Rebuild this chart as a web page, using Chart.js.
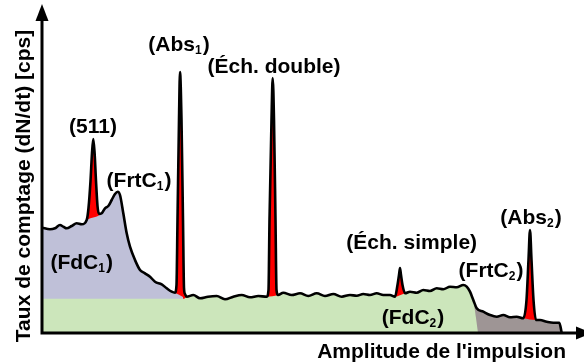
<!DOCTYPE html>
<html>
<head>
<meta charset="utf-8">
<script src="https://cdn.jsdelivr.net/npm/chart.js@4.4.1/dist/chart.umd.min.js"></script>
<style>
  html, body { margin: 0; padding: 0; background: #fff; }
  #wrap { width: 584px; height: 363px; }
</style>
</head>
<body>
<div id="wrap"><canvas id="spectrum" width="584" height="363"></canvas></div>
<script>
// continuum of the spectrum, [amplitude, counts], peak bases included
const continuum = [
  [0,105.3],[8,103.7],[13,104.7],[18,108],[21.3,106.3],[24.7,104.7],[29.7,107],[34.7,109.7],[39.7,108.7],[44.7,113],
  [59.7,119.7],[63,124.7],[66.3,127],[69.7,133],[73,139],[75.7,141.3],[78,138],[81.3,119.7],[84.7,99.7],[88,86.3],
  [93,73],[98,63],[103,59.7],[108,56.3],[113,51.3],[119.7,48.7],[124.7,44.7],[129.7,41.3],[133,40.3],
  [144.7,36.3],[151.3,38],[158,34.7],[166,36.3],[174.7,37],[183,33.7],[191.3,36.3],[199.7,38],[208,35.7],[216.3,37],[224.7,36.3],
  [236,38],[241.3,40.3],[249.7,38],[258,39.7],[266.3,37],[274.7,39.7],[283,37],[291.3,39],[299.7,36.3],[308,38],
  [314.7,37.3],[321.3,39],[328,38],[334.7,39.7],[341.3,38],[348,38],[353,36.3],
  [363,39.7],[368,41.3],[374.7,40.3],[381.3,43],[388,42],[394.7,44.7],[401.3,43.7],[408,46.3],[414.7,45.7],[421.3,48],
  [424.7,46.3],[428,41.3],[431.3,33],[434.7,24.7],[441.3,21.3],[448,18],[454.7,16.3],[461.3,18],[468,15.7],[474.7,16.3],[481.3,14.7],
  [494,13],[498,13],[504.7,11.3],[511.3,10.3],[517.3,10.3],[519.7,0]
];

// peaks, points between their bases
const peak511 = [[46.5,125],[48.5,152],[50,180],[51.3,194],[52.6,180],[54,152],[55.5,127],[57,119]];
const peakAbs1 = [[134.5,48],[135.5,113],[137,213],[138,261],[139.5,213],[141,113],[142,45],[143,39]];
const peakDouble = [[226.5,43],[227.5,113],[229.5,213],[230.7,255],[232,213],[233.5,113],[234.5,43]];
const peakSimple = [[355.5,48],[357,58],[358,65],[359,58],[360.5,48]];
const peakAbs2 = [[484.5,33],[486.5,73],[488,103],[489.5,73],[491.5,33]];

// limits of the three background regions
const fdc1End = [141, 36];
const fdc2Floor = 34.3;
const fdc2Drop = [[434, 15], [436, 0]];
const tailStart = 431.3;

// annotations
const labelText = ['(511)', '(Abs', '(Éch. double)', '(FrtC', '(FdC', '(Éch. simple)', '(FrtC', '(Abs', '(FdC'];
const labelSub  = ['', '1', '', '1', '1', '', '2', '2', '2'];
const labelAmp  = [51, 137, 232, 97, 39.7, 369.7, 449, 489, 371];
const labelCnt  = [200.3, 282, 260.3, 145.7, 63.7, 84, 55.7, 108.7, 9];

const xTitle = "Amplitude de l'impulsion";
const yTitle = 'Taux de comptage (dN/dt) [cps]';

const pts = arr => arr.map(p => ({ x: p[0], y: p[1] }));

const peaks = [peak511, peakAbs1, peakDouble, peakSimple, peakAbs2];
const spectrum = continuum.concat(...peaks).sort((a, b) => a[0] - b[0]);

// red area of each peak, closed by its neighbouring continuum points
const peakArea = peak => {
  const before = continuum.filter(p => p[0] < peak[0][0]).pop();
  const after = continuum.find(p => p[0] > peak[peak.length - 1][0]);
  return [before, ...peak, after];
};

const blueTop = continuum.filter(p => p[0] <= 133).concat([fdc1End]);
const greenTop = [[0, fdc2Floor], [142, fdc2Floor]]
  .concat(continuum.filter(p => p[0] >= 144 && p[0] <= tailStart), fdc2Drop);
const grayTop = continuum.filter(p => p[0] >= tailStart);

const FONT = '"Liberation Sans", Arial, sans-serif';

const area = (data, color, order) => ({
  data: pts(data), fill: 'origin', backgroundColor: color,
  borderWidth: 0, pointRadius: 0, cubicInterpolationMode: 'monotone', order: order
});

const datasets = [];
peaks.forEach(pk => datasets.push(area(peakArea(pk), '#ff0000', 10)));
datasets.push(area(blueTop, '#bfc0d8', 8));
datasets.push(area(grayTop, '#9e9595', 8));
datasets.push(area(greenTop, '#cce6bb', 6));
datasets.push({
  data: pts(spectrum), fill: false, borderColor: '#000', borderWidth: 2.6,
  borderJoinStyle: 'round', borderCapStyle: 'round', pointRadius: 0,
  cubicInterpolationMode: 'monotone', order: 1
});

const decorations = {
  id: 'decorations',
  afterDraw(chart) {
    const ctx = chart.ctx;
    const sx = chart.scales.x, sy = chart.scales.y;
    const x0 = sx.getPixelForValue(0), y0 = sy.getPixelForValue(0);
    const top = chart.chartArea.top;

    ctx.save();
    ctx.strokeStyle = '#000';
    ctx.fillStyle = '#000';
    ctx.lineWidth = 3;
    ctx.beginPath();
    ctx.moveTo(x0, top + 14);
    ctx.lineTo(x0, y0);
    ctx.lineTo(578, y0);
    ctx.stroke();
    // arrow heads
    ctx.beginPath();
    ctx.moveTo(x0, top);
    ctx.lineTo(x0 - 6.5, top + 17);
    ctx.lineTo(x0 + 6.5, top + 17);
    ctx.closePath();
    ctx.fill();
    ctx.beginPath();
    ctx.moveTo(592, y0);
    ctx.lineTo(576, y0 - 6.5);
    ctx.lineTo(576, y0 + 6.5);
    ctx.closePath();
    ctx.fill();

    // peak and region labels
    ctx.textBaseline = 'alphabetic';
    ctx.textAlign = 'left';
    labelText.forEach((t, i) => {
      const sub = labelSub[i];
      const close = sub ? ')' : '';
      ctx.font = 'bold 21px ' + FONT;
      const w1 = ctx.measureText(t).width;
      const w3 = ctx.measureText(close).width;
      ctx.font = 'bold 12px ' + FONT;
      const w2 = sub ? ctx.measureText(sub).width + 1 : 0;
      let x = sx.getPixelForValue(labelAmp[i]) - (w1 + w2 + w3) / 2;
      const y = sy.getPixelForValue(labelCnt[i]);
      ctx.font = 'bold 21px ' + FONT;
      ctx.fillText(t, x, y);
      x += w1;
      if (sub) {
        ctx.font = 'bold 12px ' + FONT;
        ctx.fillText(sub, x, y + 3);
        x += w2;
        ctx.font = 'bold 21px ' + FONT;
        ctx.fillText(close, x, y);
      }
    });

    // axis titles
    ctx.font = 'bold 21px ' + FONT;
    ctx.textAlign = 'right';
    ctx.fillText(xTitle, 566, 358);
    ctx.translate(30, 186);
    ctx.rotate(-Math.PI / 2);
    ctx.textAlign = 'center';
    ctx.fillText(yTitle, 0, 0);
    ctx.restore();
  }
};

new Chart(document.getElementById('spectrum'), {
  type: 'line',
  data: { datasets: datasets },
  options: {
    responsive: false,
    animation: false,
    devicePixelRatio: 1,
    layout: { padding: { left: 42, right: 0, top: 4, bottom: 30 } },
    scales: {
      x: { type: 'linear', min: 0, max: 542, display: false },
      y: { type: 'linear', min: 0, max: 329, display: false }
    },
    plugins: { legend: { display: false }, tooltip: { enabled: false } }
  },
  plugins: [decorations]
});
</script>
</body>
</html>
